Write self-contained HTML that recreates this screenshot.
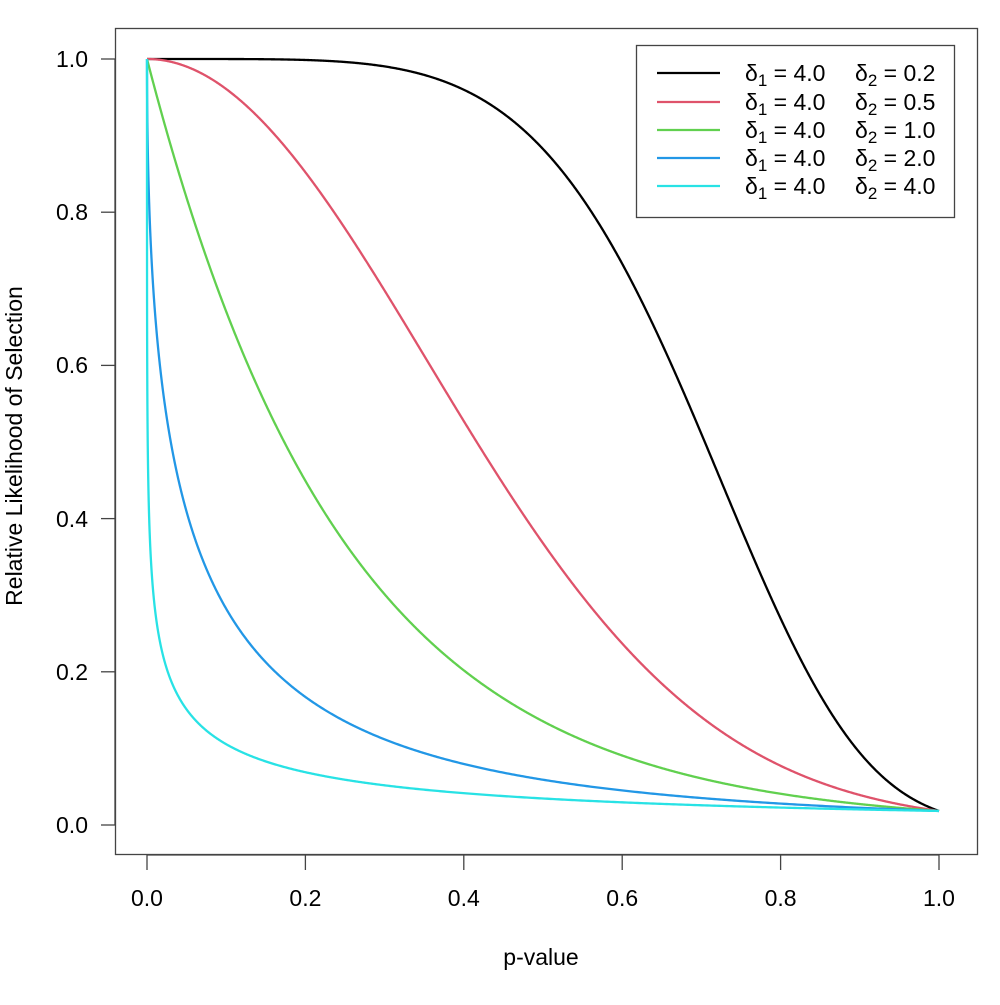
<!DOCTYPE html>
<html><head><meta charset="utf-8"><style>
body{margin:0;background:#fff}
svg text{font-family:"Liberation Sans",Arial,sans-serif;fill:#000}
</style></head><body>
<svg id="s" width="1000" height="1000" xmlns="http://www.w3.org/2000/svg">
<rect x="0" y="0" width="1000" height="1000" fill="#fff"/>
<rect x="115.5" y="28.5" width="862" height="826" fill="none" stroke="#444" stroke-width="1.3"/>
<g stroke="#444" stroke-width="1.3">
<line x1="147" y1="855" x2="939" y2="855"/>
<line x1="147" y1="855" x2="147" y2="870"/><line x1="305.4" y1="855" x2="305.4" y2="870"/><line x1="463.8" y1="855" x2="463.8" y2="870"/><line x1="622.2" y1="855" x2="622.2" y2="870"/><line x1="780.6" y1="855" x2="780.6" y2="870"/><line x1="939" y1="855" x2="939" y2="870"/>
<line x1="115" y1="59" x2="115" y2="825"/>
<line x1="101" y1="825" x2="115" y2="825"/><line x1="101" y1="671.8" x2="115" y2="671.8"/><line x1="101" y1="518.6" x2="115" y2="518.6"/><line x1="101" y1="365.4" x2="115" y2="365.4"/><line x1="101" y1="212.2" x2="115" y2="212.2"/><line x1="101" y1="59" x2="115" y2="59"/>
</g>
<g font-size="23" text-anchor="middle">
<text x="147" y="906">0.0</text><text x="305.4" y="906">0.2</text><text x="463.8" y="906">0.4</text><text x="622.2" y="906">0.6</text><text x="780.6" y="906">0.8</text><text x="939" y="906">1.0</text>
<text x="541" y="965">p-value</text>
<text transform="translate(22,446) rotate(-90)">Relative Likelihood of Selection</text>
</g>
<g font-size="23" text-anchor="end">
<text x="88" y="833">0.0</text><text x="88" y="680">0.2</text><text x="88" y="527">0.4</text><text x="88" y="373">0.6</text><text x="88" y="220">0.8</text><text x="88" y="67">1.0</text>
</g>
<g id="curves" fill="none" stroke-width="2.3" stroke-linejoin="round"></g>
<rect x="636.5" y="45.5" width="318" height="172" fill="#fff" stroke="#444" stroke-width="1.3"/>
<g stroke-width="2.3">
<line x1="657" y1="73" x2="720" y2="73" stroke="#000"/>
<line x1="657" y1="102" x2="720" y2="102" stroke="#DF536B"/>
<line x1="657" y1="130" x2="720" y2="130" stroke="#61D04F"/>
<line x1="657" y1="158" x2="720" y2="158" stroke="#2297E6"/>
<line x1="657" y1="186" x2="720" y2="186" stroke="#28E2E5"/>
</g>
<g font-size="23">
<text x="745" y="81">δ<tspan font-size="17" dy="5">1</tspan><tspan dy="-5"> = 4.0</tspan></text><text x="855" y="81">δ<tspan font-size="17" dy="5">2</tspan><tspan dy="-5"> = 0.2</tspan></text>
<text x="745" y="110">δ<tspan font-size="17" dy="5">1</tspan><tspan dy="-5"> = 4.0</tspan></text><text x="855" y="110">δ<tspan font-size="17" dy="5">2</tspan><tspan dy="-5"> = 0.5</tspan></text>
<text x="745" y="138">δ<tspan font-size="17" dy="5">1</tspan><tspan dy="-5"> = 4.0</tspan></text><text x="855" y="138">δ<tspan font-size="17" dy="5">2</tspan><tspan dy="-5"> = 1.0</tspan></text>
<text x="745" y="166">δ<tspan font-size="17" dy="5">1</tspan><tspan dy="-5"> = 4.0</tspan></text><text x="855" y="166">δ<tspan font-size="17" dy="5">2</tspan><tspan dy="-5"> = 2.0</tspan></text>
<text x="745" y="194">δ<tspan font-size="17" dy="5">1</tspan><tspan dy="-5"> = 4.0</tspan></text><text x="855" y="194">δ<tspan font-size="17" dy="5">2</tspan><tspan dy="-5"> = 4.0</tspan></text>
</g>
</svg>
<script>
var g=document.getElementById('curves');
var ds=[[0.2,'#000'],[0.5,'#DF536B'],[1,'#61D04F'],[2,'#2297E6'],[4,'#28E2E5']];
ds.forEach(function(d){
  var s='';
  for(var i=0;i<=1000;i++){
    var t=i/1000, p=Math.pow(t,d[0]>=2?4:1);
    var w=Math.exp(-4*Math.pow(p,1/d[0]));
    s+=(i?'L':'M')+(147+792*p).toFixed(2)+' '+(825-766*w).toFixed(2);
  }
  var e=document.createElementNS('http://www.w3.org/2000/svg','path');
  e.setAttribute('d',s);e.setAttribute('stroke',d[1]);g.appendChild(e);
});
</script>
</body></html>
